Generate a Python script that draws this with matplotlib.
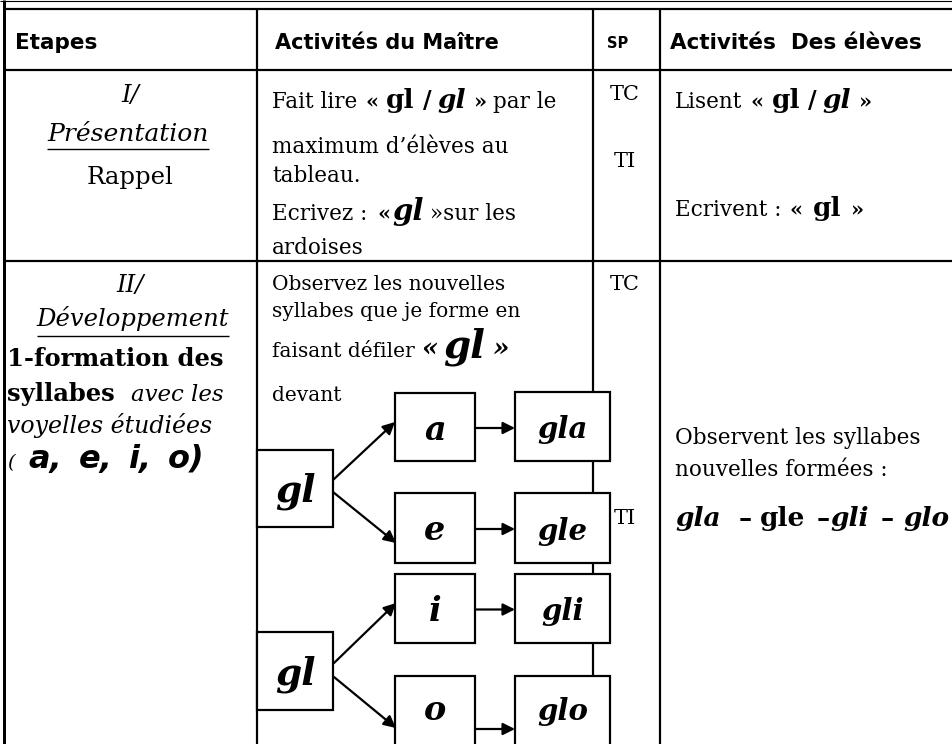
import matplotlib
matplotlib.use("Agg")
import matplotlib.pyplot as plt
from matplotlib.patches import Rectangle

W, H = 953, 744

# textes du tableau
headers = ["Etapes", "Activités du Maître", "SP", "Activités  Des élèves"]
etape1 = ["I/", "Présentation", "Rappel"]
etape2 = ["II/", "Développement", "1-formation des", "syllabes", "avec les",
          "voyelles étudiées", "(", "a,", "e,", "i,", "o)"]
maitre1 = ["Fait lire", "maximum d’élèves au", "tableau.", "Ecrivez :", "»sur les", "ardoises", "par le"]
maitre2 = ["Observez les nouvelles", "syllabes que je forme en", "faisant défiler", "devant"]
sp1 = ["TC", "TI"]
sp2 = ["TC", "TI"]
eleves1 = ["Lisent", "Ecrivent :"]
eleves2 = ["Observent les syllabes", "nouvelles formées :"]
consonne = "gl"
voyelles = ["a", "e", "i", "o"]
syllabes = ["gla", "gle", "gli", "glo"]

SERIF = "DejaVu Serif"
HEAD = "DejaVu Sans"

fig = plt.figure(figsize=(W / 100, H / 100), dpi=100)
ax = fig.add_axes([0, 0, 1, 1])
ax.set_xlim(0, W)
ax.set_ylim(H, 0)
ax.axis("off")
renderer = fig.canvas.get_renderer()

LW = 2.2 * 72 / 100  # ~2px


def hline(y, x0, x1, lw=LW):
    ax.plot([x0, x1], [y, y], color="black", lw=lw, solid_capstyle="butt", zorder=1)


def vline(x, y0, y1, lw=LW):
    ax.plot([x, x], [y0, y1], color="black", lw=lw, solid_capstyle="butt", zorder=1)


def run(x, y, pieces):
    # pieces : (texte, taille, style, poids, ecart apres)
    for txt, size, style, weight, gap in pieces:
        t = ax.text(x, y, txt, fontsize=size, family=SERIF, style=style,
                    weight=weight, va="baseline", ha="left", zorder=3)
        bb = t.get_window_extent(renderer)
        x += bb.width + gap
    return x


# grille
hline(1, 0, W, lw=0.8)
hline(9, 3, W)
hline(70, 3, W)
hline(261, 3, W)
vline(4, 0, H, lw=3 * 72 / 100)
vline(257, 9, H)
vline(593, 9, H)
vline(660, 9, H)

# en-tetes
ax.text(15, 43, headers[0], family=HEAD, weight="bold", fontsize=15.5, va="center")
ax.text(275, 43, headers[1], family=HEAD, weight="bold", fontsize=15, va="center")
ax.text(618, 43, headers[2], family=HEAD, weight="bold", fontsize=10.5, va="center", ha="center")
ax.text(670, 43, headers[3], family=HEAD, weight="bold", fontsize=15.5, va="center")

# ligne 1 : etapes
ax.text(130, 102, etape1[0], family=SERIF, style="italic", fontsize=17.5, ha="center", va="baseline")
t = ax.text(128, 141, etape1[1], family=SERIF, style="italic", fontsize=18, ha="center", va="baseline")
bb = t.get_window_extent(renderer)
hline(149, bb.x0, bb.x1, lw=1.0)
ax.text(130, 184, etape1[2], family=SERIF, fontsize=17.5, ha="center", va="baseline")

# ligne 1 : maitre
run(272, 108, [(maitre1[0], 15.5, "normal", "normal", 8), ("«", 15, "normal", "bold", 8),
               (consonne, 19, "normal", "bold", 8), ("/", 17, "normal", "bold", 6),
               (consonne, 19, "italic", "bold", 8), ("»", 15, "normal", "bold", 6),
               (maitre1[6], 15.5, "normal", "normal", 0)])
ax.text(272, 153, maitre1[1], family=SERIF, fontsize=15.5, va="baseline")
ax.text(272, 182, maitre1[2], family=SERIF, fontsize=15.5, va="baseline")
run(272, 220, [(maitre1[3], 15.5, "normal", "normal", 10), ("«", 15, "normal", "bold", 2),
               (consonne, 21, "italic", "bold", 6), (maitre1[4], 15.5, "normal", "normal", 0)])
ax.text(272, 254, maitre1[5], family=SERIF, fontsize=15.5, va="baseline")

# ligne 1 : SP et eleves
ax.text(625, 100, sp1[0], family=SERIF, fontsize=15, ha="center", va="baseline")
ax.text(625, 167, sp1[1], family=SERIF, fontsize=15, ha="center", va="baseline")
run(675, 108, [(eleves1[0], 15.5, "normal", "normal", 8), ("«", 15, "normal", "bold", 8),
               (consonne, 19, "normal", "bold", 8), ("/", 17, "normal", "bold", 6),
               (consonne, 19, "italic", "bold", 8), ("»", 15, "normal", "bold", 0)])
run(675, 216, [(eleves1[1], 15.5, "normal", "normal", 8), ("«", 15, "normal", "bold", 10),
               (consonne, 19, "normal", "bold", 10), ("»", 15, "normal", "bold", 0)])

# ligne 2 : etapes
ax.text(130, 292, etape2[0], family=SERIF, style="italic", fontsize=17.5, ha="center", va="baseline")
t = ax.text(133, 326, etape2[1], family=SERIF, style="italic", fontsize=17.5, ha="center", va="baseline")
bb = t.get_window_extent(renderer)
hline(336, bb.x0, bb.x1, lw=1.0)
ax.text(7, 366, etape2[2], family=SERIF, weight="bold", fontsize=17.5, va="baseline")
run(7, 401, [(etape2[3], 17.5, "normal", "bold", 16), (etape2[4], 16.5, "italic", "normal", 0)])
ax.text(7, 433, etape2[5], family=SERIF, style="italic", fontsize=17, va="baseline")
x = run(7, 468, [(etape2[6], 14, "italic", "normal", 14)])
for tok in etape2[7:]:
    t = ax.text(x, 468, tok, family=HEAD, style="italic", weight="bold", fontsize=23, va="baseline")
    x += t.get_window_extent(renderer).width + 16

# ligne 2 : maitre
ax.text(272, 290, maitre2[0], family=SERIF, fontsize=14.5, va="baseline")
ax.text(272, 317, maitre2[1], family=SERIF, fontsize=14.5, va="baseline")
run(272, 357, [(maitre2[2], 14.5, "normal", "normal", 6), ("«", 19, "italic", "bold", 6),
               (consonne, 28, "italic", "bold", 8), ("»", 19, "italic", "bold", 0)])
ax.text(272, 401, maitre2[3], family=SERIF, fontsize=14.5, va="baseline")

# ligne 2 : SP et eleves
ax.text(625, 290, sp2[0], family=SERIF, fontsize=15, ha="center", va="baseline")
ax.text(614, 524, sp2[1], family=SERIF, fontsize=15, ha="left", va="baseline")
ax.text(675, 444, eleves2[0], family=SERIF, fontsize=15.5, va="baseline")
ax.text(675, 476, eleves2[1], family=SERIF, fontsize=15.5, va="baseline")
run(675, 526, [(syllabes[0], 19, "italic", "bold", 18), ("–", 19, "normal", "bold", 8),
               (syllabes[1], 19, "normal", "bold", 12), ("–", 19, "normal", "bold", 0),
               (syllabes[2], 19, "italic", "bold", 12), ("–", 19, "normal", "bold", 10),
               (syllabes[3], 19, "italic", "bold", 0)])

# schema
gl_boxes = [(257, 450, 333, 527), (257, 632, 333, 710)]
v_boxes = [(395, 393, 475, 461), (395, 493, 475, 563), (395, 574, 475, 643), (395, 676, 475, 760)]
s_boxes = [(515, 392, 610, 461), (515, 493, 610, 563), (515, 574, 610, 643), (515, 676, 610, 760)]


def box(b, label, size):
    x0, y0, x1, y1 = b
    ax.add_patch(Rectangle((x0, y0), x1 - x0, y1 - y0, facecolor="white",
                           edgecolor="black", lw=LW, zorder=2))
    yc = (y0 + y1) / 2 + 3 if y1 <= H else y0 + 35
    ax.text((x0 + x1) / 2, yc, label, family=SERIF, style="italic", weight="bold",
            fontsize=size, ha="center", va="center", zorder=3)


for b in gl_boxes:
    box(b, consonne, 27)
for b, v in zip(v_boxes, voyelles):
    box(b, v, 24)
for b, s in zip(s_boxes, syllabes):
    box(b, s, 21)

arrow = dict(arrowstyle="-|>", color="black", lw=1.6, mutation_scale=18, shrinkA=0, shrinkB=0)
branches = [((333, 480), (395, 422)), ((333, 492), (396, 543)),
            ((334, 663), (396, 603)), ((334, 677), (396, 728))]
for a, b in branches:
    ax.annotate("", xy=b, xytext=a, arrowprops=arrow, zorder=3)
for vb, sb in zip(v_boxes, s_boxes):
    y = (vb[1] + vb[3]) / 2 + 1 if vb[3] < H else 729
    ax.annotate("", xy=(sb[0], y), xytext=(vb[2], y), arrowprops=arrow, zorder=3)

fig.savefig("out.png", dpi=100)
